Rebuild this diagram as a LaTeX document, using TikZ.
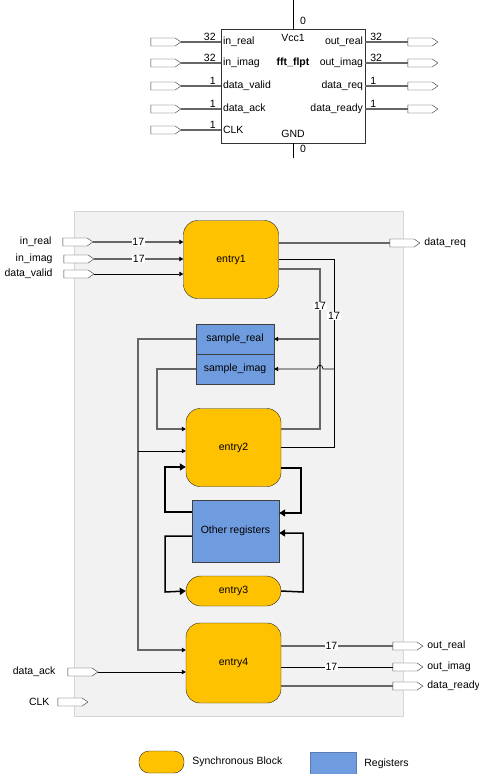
\documentclass[tikz,border=0pt]{standalone}
\usepackage{fontspec}
\setmainfont{Liberation Sans}
\usepackage{tikz}
\usetikzlibrary{arrows.meta,positioning,calc,shapes.symbols}

\definecolor{syncyellow}{RGB}{255,194,0}
\definecolor{regblue}{RGB}{111,156,222}
\definecolor{panelgray}{RGB}{242,242,242}
\definecolor{panelline}{RGB}{214,214,214}

\begin{document}
\begin{tikzpicture} [
  x=1pt, y=-1pt,
  font=\fontsize{10.5}{12}\selectfont,
  port/.style= {shape=signal, signal to=east, signal pointer angle=70, draw=black!80, fill=white, minimum width=30, minimum height=8, inner sep=0},
  sync block/.style= {draw=black!85, fill=syncyellow, rounded corners=14pt, minimum width=95, minimum height=78, inner sep=0},
  reg block/.style= {draw=black!75, fill=regblue, minimum width=78, minimum height=30, inner sep=0},
  wire/.style={draw=black!60, line width=1.1pt},
  thin wire/.style={draw=black, line width=0.7pt},
  bold wire/.style={draw=black, line width=1.5pt},
  tip/.style={-{Triangle[length=4pt,width=4.5pt,color=black]}},
  big tip/.style={-{Triangle[length=6pt,width=7pt]}},
  width label/.style={fill=white, inner sep=0.8pt}
]
\useasboundingbox (0,0) rectangle (479,774);

% top level symbol
\node (fft) [draw=black!80, minimum width=144, minimum height=114, inner sep=0] at (293,86) {};
\node (vcc) [inner sep=0] at (293,38) {Vcc1};
\node (gnd) [inner sep=0] at (293,134) {GND};
\node (name) [inner sep=0] at (293,63) {\bfseries fft\_flpt};
\coordinate (vtop) at (293,0);
\coordinate (vbot) at (293,158);
\draw [thin wire] (fft.north) -- (vtop);
\draw [thin wire] (fft.south) -- (vbot);
\node (vccw) [inner sep=0] at (303,21) {0};
\node (gndw) [inner sep=0] at (303,149) {0};

\foreach \py/\pin/\bw [count=\i] in {42/in\_real/32, 63/in\_imag/32, 86/data\_valid/1, 109/data\_ack/1, 130/CLK/1} {
  \node (tin\i) [port] at (163,\py) {};
  \draw [wire] (tin\i.east) -- (tin\i.east -| fft.west);
  \node (tinw\i) [anchor=south east, inner sep=1pt] at ($(tin\i.east -| fft.west)+(-4,0)$) {\bw};
  \node (tinl\i) [anchor=west, inner sep=2pt] at (tin\i.east -| fft.west) {\pin};
}
\foreach \py/\pin/\bw [count=\i] in {42/out\_real/32, 63/out\_imag/32, 86/data\_req/1, 109/data\_ready/1} {
  \node (tout\i) [port] at (420,\py) {};
  \draw [wire] (tout\i.west) -- (tout\i.west -| fft.east);
  \node (toutw\i) [anchor=south west, inner sep=1pt] at ($(tout\i.west -| fft.east)+(4,0)$) {\bw};
  \node (toutl\i) [anchor=east, inner sep=2pt] at (tout\i.west -| fft.east) {\pin};
}

% block diagram
\node (panel) [fill=panelgray, draw=panelline, minimum width=329, minimum height=505, inner sep=0] at (238.5,463.5) {};

\node (e1) [sync block] at (231,259.5) {entry1};
\node (e2) [sync block] at (233.5,447.5) {entry2};
\node (e3) [sync block, rounded corners=15pt, minimum height=30] at (233.5,591) {entry3};
\node (e4) [sync block, minimum height=80] at (233.5,663) {entry4};
\node (sR) [reg block] at (235,339) {sample\_real};
\node (sI) [reg block] at (235,369) {sample\_imag};
\node (oreg) [reg block, minimum width=87, minimum height=62] at (235.5,531) {Other registers};

% inputs
\node (inR) [port] at (75,242) {};
\node (inI) [port] at (76,259) {};
\node (dV) [port] at (76,274) {};
\node (dA) [port] at (80,672) {};
\node (clk) [port] at (70,702) {};
\node (inRl) [left=11pt of inR.west, anchor=east, inner sep=0] {in\_real};
\node (inIl) [left=11pt of inI.west, anchor=east, inner sep=0] {in\_imag};
\node (dVl) [left=11pt of dV.west, anchor=east, inner sep=0] {data\_valid};
\node (dAl) [left=12pt of dA.west, anchor=east, inner sep=0] {data\_ack};
\node (clkl) [left=8pt of clk.west, anchor=east, inner sep=0] {CLK};

\draw [wire, tip] (inR.east) -- (inR.east -| e1.west) node [width label, pos=0.5] (w1) {17};
\draw [wire, tip] (inI.east) -- (inI.east -| e1.west) node [width label, pos=0.5] (w2) {17};
\draw [thin wire, tip] (dV.east) -- (dV.east -| e1.west);
\draw [thin wire, tip] (dA.east) -- (dA.east -| e4.west);

% outputs
\node (dR) [port] at (402,243) {};
\node (dRl) [right=4pt of dR.east, anchor=west, inner sep=0] {data\_req};
\draw [wire] (e1.east |- dR.west) -- (dR.west);

\node (oR) [port] at (405,646) {};
\node (oI) [port] at (405,667) {};
\node (dY) [port] at (405,686) {};
\node (oRl) [right=4pt of oR.east, anchor=west, inner sep=0] {out\_real};
\node (oIl) [right=4pt of oI.east, anchor=west, inner sep=0] {out\_imag};
\node (dYl) [right=4pt of dY.east, anchor=west, inner sep=0] {data\_ready};
\draw [wire] (e4.east |- oR.west) -- (oR.west) node [width label, pos=0.45] (w5) {17};
\draw [thin wire] (e4.east |- oI.west) -- (oI.west) node [width label, pos=0.45] (w6) {17};
\draw [wire] (e4.east |- dY.west) -- (dY.west);

% samples write back
\coordinate (realbus) at (320,269);
\coordinate (imagbus) at (334,259);
\draw [wire] (e1.east |- realbus) -- (realbus) -- (320,429) -- (e2.east |- 0,429);
\draw [thin wire] (e1.east |- imagbus) -- (imagbus) -- (334,447) -- (e2.east |- 0,447);
\node (w3) [width label] at (320,306) {17};
\node (w4) [width label] at (334,316) {17};
\draw [wire, tip] (320,339) -- (sR.east);
\draw [thin wire, tip] (334,369) -- (323,369) .. controls (323,364) and (317,364) .. (317,369) -- (sI.east);

% samples read
\draw [wire, tip] (sR.west) -- (138,339) -- (138,650) -- (e4.west |- 0,650);
\draw [thin wire, tip] (138,451) -- (e2.west |- 0,451);
\draw [wire, tip] (sI.west) -- (157,369) -- (157,429) -- (e2.west |- 0,429);

% other registers
\draw [bold wire, big tip] (oreg.west |- 0,512) -- (165,512) -- (165,467) -- (e2.west |- 0,467);
\draw [bold wire, big tip] (e2.east |- 0,468) -- (301,468) -- (301,513) -- (oreg.east |- 0,513);
\draw [bold wire, big tip] (oreg.west |- 0,536) -- (165,536) -- (165,592) -- (e3.west);
\draw [bold wire, big tip] (e3.east) -- (303,592) -- (303,533) -- (oreg.east |- 0,533);

% legend
\node (lsync) [sync block, rounded corners=10pt, minimum width=45, minimum height=22] at (161.5,762) {};
\node (lsyncl) [right=8pt of lsync.east, anchor=west, inner sep=0] {Synchronous Block};
\node (lreg) [draw=regblue!80!black, fill=regblue, minimum width=46, minimum height=24, inner sep=0] at (333,764) {};
\node (lregl) [right=8pt of lreg.east, anchor=west, inner sep=0] {Registers};
\end{tikzpicture}
\end{document}
